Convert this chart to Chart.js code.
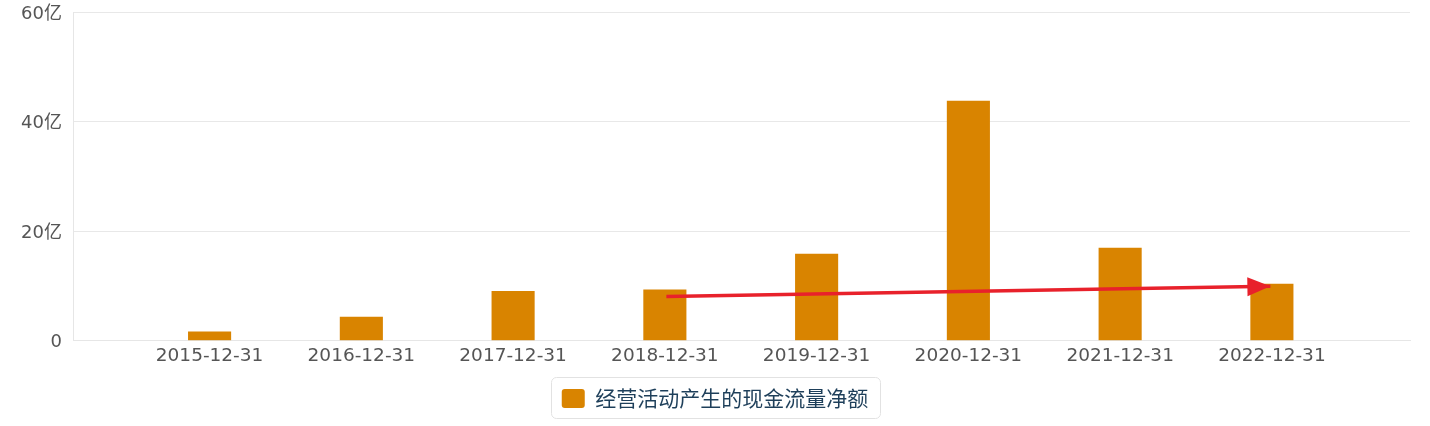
<!DOCTYPE html>
<html>
<head>
<meta charset="utf-8">
<script src="https://cdn.jsdelivr.net/npm/chart.js@4/dist/chart.umd.min.js"></script>
<style>
  html, body { margin: 0; padding: 0; background: #ffffff; }
  #wrap { width: 1430px; height: 426px; position: relative; }
</style>
</head>
<body>
<div id="wrap"><canvas id="c"></canvas></div>
<script>
// ---- data ----
const categories = ['2015-12-31', '2016-12-31', '2017-12-31', '2018-12-31', '2019-12-31', '2020-12-31', '2021-12-31', '2022-12-31'];
const seriesName = '经营活动产生的现金流量净额';
const values = [1.7, 4.4, 9.1, 9.35, 15.9, 43.8, 17.0, 10.4]; // 亿
const yTickValues = [0, 20, 40, 60];
const yTickLabels = ['0', '20亿', '40亿', '60亿'];
// annotation arrow (category index, value in 亿)
const arrowX = [3.01, 6.99];
const arrowY = [8.1, 9.95];

const TICK_FONT = "'DejaVu Sans', 'Noto Sans CJK SC', sans-serif";
const LEGEND_FONT = "'Noto Sans CJK SC', 'Noto Sans', sans-serif";

const arrowHeadPlugin = {
  id: 'arrowHead',
  afterDatasetsDraw(chart) {
    const meta = chart.getDatasetMeta(1);
    if (!meta || !meta.data || meta.data.length < 2) return;
    const p0 = meta.data[meta.data.length - 2], p1 = meta.data[meta.data.length - 1];
    const ang = Math.atan2(p1.y - p0.y, p1.x - p0.x);
    const len = 23, half = 9.5;
    const ctx = chart.ctx;
    ctx.save();
    ctx.fillStyle = '#e8212b';
    ctx.translate(p1.x, p1.y);
    ctx.rotate(ang);
    ctx.beginPath();
    ctx.moveTo(0, 0);
    ctx.lineTo(-len, -half);
    ctx.lineTo(-len, half);
    ctx.closePath();
    ctx.fill();
    ctx.restore();
  }
};

const legendBoxPlugin = {
  id: 'legendBox',
  afterDraw(chart) {
    const lg = chart.legend;
    if (!lg || !lg.legendHitBoxes || !lg.legendHitBoxes.length) return;
    const hb = lg.legendHitBoxes[0];
    const ctx = chart.ctx;
    const x = hb.left - 11, y = hb.top - 11, w = hb.width + 23, h = hb.height + 20;
    ctx.save();
    ctx.strokeStyle = '#e2e2e2';
    ctx.lineWidth = 1;
    ctx.beginPath();
    ctx.roundRect(Math.round(x) + 0.5, Math.round(y) + 0.5, Math.round(w), Math.round(h), 5);
    ctx.stroke();
    ctx.restore();
  }
};

new Chart(document.getElementById('c'), {
  data: {
    datasets: [
      {
        type: 'bar',
        label: seriesName,
        data: values.map((v, i) => ({ x: i, y: v })),
        backgroundColor: '#d98400',
        borderWidth: 0,
        barPercentage: 0.284,
        categoryPercentage: 1,
        order: 1
      },
      {
        type: 'line',
        label: 'arrow',
        data: arrowX.map((x, i) => ({ x: x, y: arrowY[i] })),
        borderColor: '#e8212b',
        borderWidth: 3.5,
        pointRadius: 0,
        fill: false,
        order: 0
      }
    ]
  },
  options: {
    responsive: true,
    maintainAspectRatio: false,
    animation: false,
    layout: { padding: { top: 12, right: 20, left: 20, bottom: 7 } },
    scales: {
      x: {
        type: 'linear',
        offset: false,
        min: -0.9,
        max: 7.91,
        afterBuildTicks(scale) { scale.ticks = categories.map((c, i) => ({ value: i })); },
        afterFit(scale) { scale.height = scale.height + 3; },
        ticks: {
          autoSkip: false,
          includeBounds: false,
          maxRotation: 0,
          padding: 4,
          color: '#555555',
          font: { family: TICK_FONT, size: 18.5 },
          callback: (v) => categories[v] !== undefined ? categories[v] : ''
        },
        grid: { display: false, drawTicks: false },
        border: { display: true, color: '#e6e6e6', width: 1 }
      },
      y: {
        min: 0,
        max: 60,
        afterFit(scale) { scale.width = 53; scale.paddingTop = 0; scale.paddingBottom = 0; },
        afterBuildTicks(scale) { scale.ticks = yTickValues.map(v => ({ value: v })); },
        ticks: {
          padding: 11,
          labelOffset: 2,
          color: '#555555',
          font: { family: TICK_FONT, size: 18 },
          callback: (v) => { const k = yTickValues.indexOf(v); return k >= 0 ? yTickLabels[k] : ''; }
        },
        grid: { color: '#e8e8e8', drawTicks: false },
        border: { display: true, color: '#e6e6e6', width: 1 }
      }
    },
    plugins: {
      tooltip: { enabled: false },
      legend: {
        display: true,
        position: 'bottom',
        labels: {
          filter: (item) => item.datasetIndex === 0,
          boxWidth: 23,
          boxHeight: 19,
          useBorderRadius: true,
          borderRadius: 3,
          padding: 14,
          color: '#1e3f5a',
          font: { family: LEGEND_FONT, size: 21 }
        }
      }
    }
  },
  plugins: [arrowHeadPlugin, legendBoxPlugin]
});
</script>
</body>
</html>
